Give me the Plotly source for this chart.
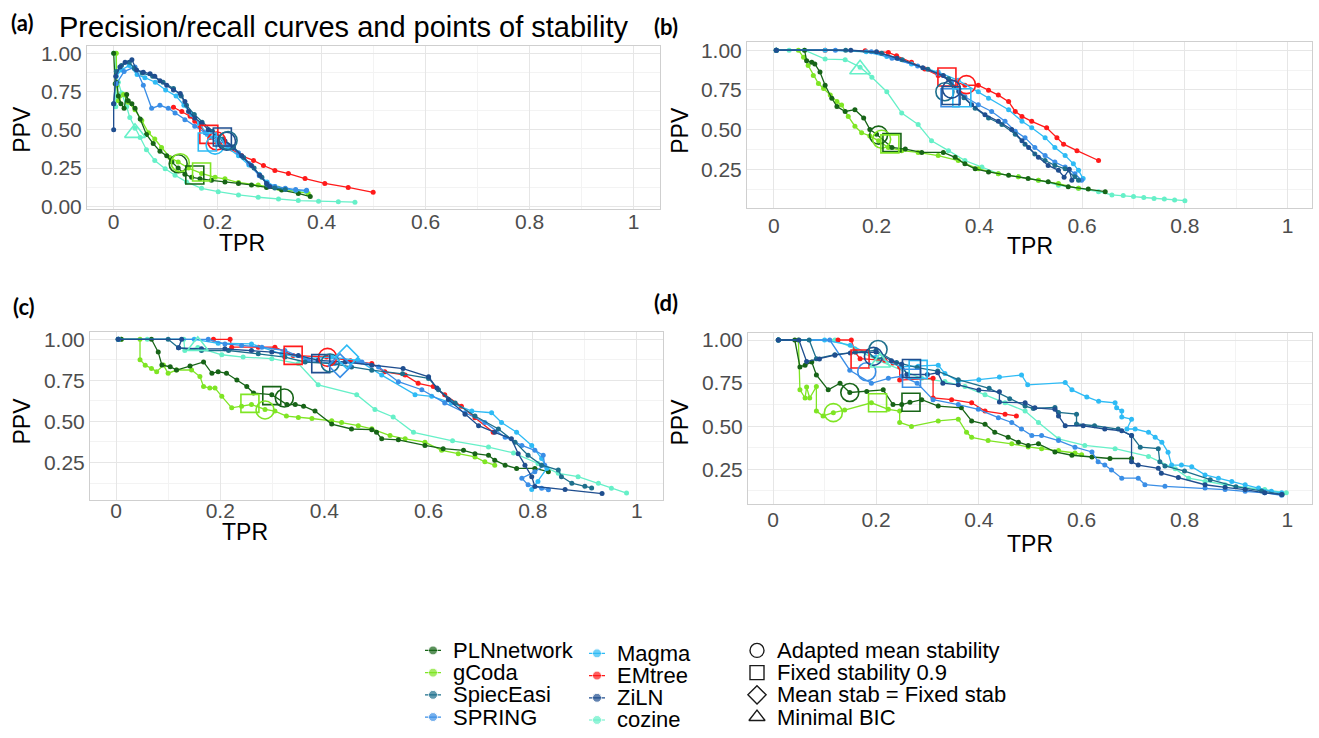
import plotly.graph_objects as go

# ---------------- data ----------------
METHODS = ["PLNnetwork", "gCoda", "SpiecEasi", "SPRING", "Magma", "EMtree", "ZiLN", "cozine"]
COLORS = {
    "PLNnetwork": "#176417", "gCoda": "#7FE524", "SpiecEasi": "#1D6F8C", "SPRING": "#3A8EE6",
    "Magma": "#2EBBF5", "EMtree": "#FF1A1A", "ZiLN": "#1F4E8F", "cozine": "#66F0C8",
}
SHAPES = ["Adapted mean stability", "Fixed stability 0.9", "Mean stab = Fixed stab", "Minimal BIC"]
SHAPE_KEYS = ["circle", "square", "diamond", "triangle"]

TPR_TICKS = [0, 0.2, 0.4, 0.6, 0.8, 1]
TPR_LABELS = ["0", "0.2", "0.4", "0.6", "0.8", "1"]
PPV_TICKS = [0, 0.25, 0.5, 0.75, 1]
PPV_LABELS = ["0.00", "0.25", "0.50", "0.75", "1.00"]

# ---- panel (a): (TPR, PPV) ----
A_PLN = [(0.0,1.0),(0.003,0.80),(0.006,0.81),(0.009,0.72),(0.014,0.67),(0.02,0.64),(0.025,0.73),(0.028,0.69),(0.035,0.67),(0.041,0.64),(0.051,0.57),(0.063,0.47),(0.076,0.41),(0.089,0.36),(0.102,0.33),(0.112,0.29),(0.124,0.25),(0.137,0.21),(0.15,0.19),(0.166,0.18),(0.188,0.17),(0.214,0.16),(0.24,0.15),(0.265,0.14),(0.294,0.124),(0.323,0.107),(0.355,0.085),(0.378,0.064)]
A_GCO = [(0.005,1.0),(0.006,0.79),(0.009,0.69),(0.019,0.73),(0.028,0.68),(0.041,0.63),(0.054,0.56),(0.067,0.48),(0.079,0.44),(0.092,0.385),(0.108,0.32),(0.124,0.29),(0.144,0.25),(0.169,0.215),(0.195,0.19),(0.214,0.18),(0.24,0.156),(0.278,0.139),(0.317,0.118),(0.355,0.096),(0.374,0.085)]
A_COZ = [(0.0,1.0),(0.004,1.0),(0.004,0.65),(0.009,0.81),(0.015,0.74),(0.025,0.65),(0.031,0.58),(0.041,0.51),(0.051,0.45),(0.063,0.37),(0.079,0.30),(0.099,0.246),(0.118,0.203),(0.14,0.16),(0.169,0.118),(0.201,0.096),(0.24,0.075),(0.278,0.06),(0.317,0.049),(0.355,0.038),(0.394,0.034),(0.432,0.03),(0.464,0.028)]
A_ZIL = [(0.0,0.5),(0.0,0.67),(0.004,0.85),(0.012,0.91),(0.022,0.94),(0.035,0.957),(0.044,0.89),(0.057,0.876),(0.07,0.865),(0.079,0.85),(0.089,0.82),(0.102,0.79),(0.115,0.76),(0.128,0.737),(0.137,0.684),(0.144,0.62),(0.156,0.577),(0.169,0.545),(0.182,0.5),(0.198,0.46),(0.214,0.427),(0.23,0.385),(0.246,0.33),(0.265,0.267),(0.281,0.203),(0.294,0.15),(0.30,0.13)]
A_SPI = [(0.0,0.67),(0.005,0.88),(0.015,0.92),(0.03,0.94),(0.04,0.9),(0.055,0.87),(0.075,0.85),(0.095,0.81),(0.115,0.77),(0.13,0.72),(0.14,0.66),(0.155,0.6),(0.17,0.55),(0.19,0.49),(0.21,0.44),(0.23,0.39),(0.25,0.32),(0.27,0.25),(0.285,0.19),(0.295,0.14),(0.31,0.12),(0.33,0.11)]
A_MAG = [(0.005,0.85),(0.015,0.89),(0.03,0.92),(0.045,0.86),(0.06,0.84),(0.08,0.81),(0.1,0.76),(0.12,0.72),(0.135,0.66),(0.15,0.6),(0.165,0.54),(0.18,0.47),(0.2,0.41),(0.22,0.38),(0.24,0.33),(0.26,0.27),(0.28,0.21),(0.295,0.16),(0.31,0.13),(0.33,0.115),(0.35,0.105),(0.37,0.10)]
A_SPR = [(0.005,0.8),(0.02,0.88),(0.041,0.91),(0.057,0.79),(0.073,0.64),(0.089,0.66),(0.105,0.64),(0.118,0.61),(0.137,0.566),(0.156,0.523),(0.176,0.48),(0.2,0.43),(0.22,0.4),(0.24,0.35),(0.26,0.28),(0.28,0.2),(0.295,0.15),(0.31,0.13),(0.33,0.118),(0.35,0.11),(0.371,0.105)]
A_EMT = [(0.115,0.647),(0.131,0.62),(0.147,0.588),(0.156,0.556),(0.166,0.523),(0.185,0.449),(0.204,0.406),(0.227,0.374),(0.246,0.33),(0.269,0.3),(0.288,0.267),(0.31,0.235),(0.336,0.214),(0.368,0.182),(0.406,0.15),(0.451,0.124),(0.499,0.092)]
A_STAB = [("EMtree","square",0.183,0.47),("EMtree","circle",0.198,0.427),("Magma","square",0.18,0.42),("Magma","circle",0.195,0.40),("ZiLN","square",0.209,0.453),("ZiLN","circle",0.217,0.425),("SpiecEasi","circle",0.22,0.43),("PLNnetwork","circle",0.124,0.278),("gCoda","circle",0.128,0.285),("PLNnetwork","square",0.156,0.205),("gCoda","square",0.169,0.225),("cozine","triangle",0.041,0.48)]

# ---- panel (b) ----
B_COZ = [(0.005,1.0),(0.03,1.0),(0.06,1.0),(0.1,0.944),(0.139,0.94),(0.168,0.893),(0.191,0.83),(0.22,0.738),(0.249,0.604),(0.281,0.532),(0.307,0.429),(0.34,0.367),(0.372,0.305),(0.405,0.264),(0.437,0.222),(0.476,0.202),(0.515,0.181),(0.554,0.15),(0.593,0.13),(0.632,0.109),(0.658,0.088),(0.68,0.085),(0.70,0.078),(0.72,0.072),(0.74,0.066),(0.76,0.062),(0.78,0.057),(0.80,0.052)]
B_GCO = [(0.005,1.0),(0.048,1.0),(0.058,0.955),(0.067,0.903),(0.077,0.841),(0.087,0.79),(0.097,0.759),(0.11,0.717),(0.123,0.676),(0.132,0.655),(0.145,0.583),(0.158,0.521),(0.171,0.48),(0.187,0.46),(0.204,0.429),(0.223,0.387),(0.249,0.367),(0.281,0.356),(0.32,0.336),(0.359,0.305),(0.398,0.253),(0.437,0.222),(0.476,0.202),(0.515,0.181),(0.554,0.16),(0.593,0.13)]
B_PLN = [(0.005,1.0),(0.06,1.0),(0.064,0.934),(0.074,0.924),(0.08,0.913),(0.09,0.862),(0.1,0.779),(0.113,0.697),(0.123,0.645),(0.139,0.614),(0.158,0.625),(0.175,0.573),(0.187,0.501),(0.2,0.47),(0.23,0.387),(0.256,0.377),(0.288,0.356),(0.33,0.356),(0.353,0.325),(0.372,0.284),(0.392,0.253),(0.418,0.233),(0.457,0.212),(0.495,0.191),(0.534,0.171),(0.573,0.14),(0.612,0.125),(0.645,0.109)]
B_EMT = [(0.1,1.0),(0.178,0.996),(0.223,0.986),(0.239,0.965),(0.268,0.924),(0.294,0.882),(0.32,0.841),(0.34,0.82),(0.372,0.779),(0.398,0.779),(0.418,0.748),(0.437,0.717),(0.457,0.676),(0.47,0.614),(0.483,0.583),(0.502,0.552),(0.531,0.511),(0.551,0.449),(0.564,0.408),(0.59,0.367),(0.632,0.305)]
B_MAG = [(0.005,1.0),(0.1,1.0),(0.18,0.99),(0.22,0.96),(0.268,0.913),(0.32,0.862),(0.359,0.81),(0.398,0.738),(0.418,0.697),(0.457,0.625),(0.483,0.552),(0.502,0.511),(0.528,0.449),(0.547,0.387),(0.567,0.336),(0.583,0.284),(0.593,0.243),(0.602,0.191)]
B_SPR = [(0.005,1.0),(0.12,1.0),(0.19,0.99),(0.23,0.95),(0.28,0.9),(0.32,0.85),(0.346,0.8),(0.372,0.707),(0.398,0.656),(0.424,0.614),(0.45,0.552),(0.47,0.49),(0.489,0.449),(0.508,0.387),(0.528,0.336),(0.547,0.295),(0.567,0.264),(0.586,0.222),(0.599,0.181)]
B_ZIL = [(0.005,1.0),(0.15,1.0),(0.2,0.99),(0.24,0.95),(0.29,0.89),(0.33,0.84),(0.36,0.74),(0.385,0.656),(0.411,0.594),(0.437,0.552),(0.463,0.501),(0.483,0.429),(0.496,0.387),(0.515,0.325),(0.534,0.274),(0.554,0.243),(0.565,0.2),(0.575,0.25),(0.58,0.18)]
B_SPI = [(0.005,1.0),(0.14,1.0),(0.21,0.98),(0.25,0.94),(0.3,0.88),(0.34,0.82),(0.37,0.7),(0.392,0.635),(0.418,0.573),(0.444,0.532),(0.47,0.47),(0.489,0.408),(0.508,0.346),(0.528,0.305),(0.547,0.274),(0.567,0.253),(0.586,0.202),(0.593,0.181)]
B_STAB = [("EMtree","square",0.337,0.831),("EMtree","circle",0.375,0.783),("SpiecEasi","circle",0.333,0.738),("SPRING","square",0.343,0.70),("Magma","square",0.366,0.70),("ZiLN","square",0.345,0.715),("ZiLN","circle",0.346,0.755),("PLNnetwork","circle",0.204,0.465),("gCoda","circle",0.21,0.439),("PLNnetwork","square",0.23,0.418),("gCoda","square",0.226,0.41),("cozine","triangle",0.168,0.88)]

# ---- panel (c) ----
C_COZ = [(0.004,1.0),(0.06,1.0),(0.13,1.0),(0.132,0.932),(0.157,0.95),(0.203,0.906),(0.244,0.892),(0.299,0.882),(0.35,0.852),(0.388,0.723),(0.462,0.663),(0.497,0.573),(0.532,0.527),(0.571,0.434),(0.646,0.382),(0.715,0.344),(0.763,0.308),(0.81,0.244),(0.849,0.184),(0.887,0.164),(0.926,0.124),(0.951,0.094),(0.98,0.064)]
C_GCO = [(0.01,1.0),(0.046,1.0),(0.046,0.876),(0.056,0.842),(0.068,0.823),(0.078,0.803),(0.091,0.843),(0.1,0.793),(0.116,0.813),(0.145,0.813),(0.161,0.773),(0.168,0.713),(0.18,0.703),(0.19,0.703),(0.203,0.653),(0.222,0.583),(0.241,0.593),(0.26,0.603),(0.286,0.573),(0.305,0.563),(0.327,0.533),(0.35,0.524),(0.376,0.518),(0.414,0.504),(0.433,0.494),(0.465,0.474),(0.491,0.455),(0.526,0.414),(0.555,0.394),(0.593,0.374),(0.625,0.324),(0.657,0.304),(0.689,0.284),(0.708,0.254),(0.727,0.234)]
C_PLN = [(0.01,1.0),(0.068,1.0),(0.081,0.922),(0.088,0.843),(0.104,0.833),(0.116,0.813),(0.142,0.837),(0.168,0.862),(0.184,0.793),(0.196,0.803),(0.212,0.793),(0.232,0.753),(0.251,0.713),(0.264,0.673),(0.299,0.663),(0.328,0.603),(0.344,0.603),(0.36,0.593),(0.382,0.563),(0.414,0.484),(0.452,0.454),(0.491,0.45),(0.5,0.434),(0.51,0.394),(0.542,0.388),(0.593,0.354),(0.628,0.334),(0.667,0.324),(0.689,0.304),(0.715,0.294),(0.727,0.264),(0.747,0.234),(0.769,0.214),(0.804,0.214),(0.83,0.194)]
C_EMT = [(0.187,1.0),(0.219,1.0),(0.222,0.952),(0.273,0.952),(0.305,0.952),(0.34,0.902),(0.404,0.892),(0.45,0.87),(0.491,0.852),(0.516,0.802),(0.555,0.782),(0.58,0.732),(0.609,0.712),(0.631,0.663),(0.663,0.593),(0.689,0.523),(0.724,0.434)]
C_MAG = [(0.005,1.0),(0.15,1.0),(0.196,0.976),(0.26,0.972),(0.318,0.912),(0.363,0.882),(0.414,0.892),(0.465,0.872),(0.51,0.782),(0.574,0.663),(0.606,0.653),(0.644,0.613),(0.683,0.563),(0.721,0.553),(0.74,0.494),(0.769,0.434),(0.798,0.354),(0.817,0.274),(0.827,0.214),(0.81,0.135),(0.798,0.085)]
C_SPR = [(0.005,1.0),(0.177,1.0),(0.209,0.972),(0.241,0.962),(0.28,0.952),(0.324,0.932),(0.369,0.872),(0.42,0.852),(0.472,0.862),(0.504,0.832),(0.542,0.742),(0.587,0.693),(0.631,0.613),(0.67,0.553),(0.708,0.494),(0.747,0.404),(0.779,0.354),(0.804,0.324),(0.82,0.294),(0.823,0.234),(0.804,0.194),(0.779,0.154),(0.791,0.114),(0.817,0.094),(0.83,0.084)]
C_ZIL = [(0.004,1.0),(0.126,1.0),(0.12,0.948),(0.164,0.942),(0.209,0.942),(0.26,0.932),(0.299,0.922),(0.35,0.902),(0.388,0.872),(0.44,0.862),(0.491,0.842),(0.551,0.822),(0.6,0.772),(0.616,0.703),(0.638,0.633),(0.67,0.543),(0.696,0.474),(0.727,0.434),(0.759,0.394),(0.772,0.304),(0.785,0.234),(0.798,0.164),(0.804,0.104),(0.862,0.085),(0.933,0.061)]
C_SPI = [(0.004,1.0),(0.1,1.0),(0.12,0.948),(0.164,0.932),(0.216,0.932),(0.273,0.912),(0.324,0.892),(0.363,0.862),(0.414,0.852),(0.452,0.832),(0.491,0.812),(0.55,0.79),(0.6,0.762),(0.619,0.693),(0.651,0.613),(0.689,0.533),(0.734,0.454),(0.766,0.374),(0.791,0.294),(0.817,0.234),(0.849,0.204),(0.855,0.164),(0.875,0.124),(0.9,0.105),(0.913,0.095)]
C_STAB = [("EMtree","square",0.34,0.902),("EMtree","circle",0.406,0.89),("ZiLN","square",0.393,0.852),("SpiecEasi","circle",0.411,0.856),("SPRING","diamond",0.43,0.84),("Magma","diamond",0.443,0.893),("cozine","triangle",0.157,0.96),("PLNnetwork","square",0.299,0.657),("PLNnetwork","circle",0.323,0.643),("gCoda","square",0.257,0.61),("gCoda","circle",0.286,0.57)]

# ---- panel (d) ----
D_PLN = [(0.01,1.0),(0.042,1.0),(0.052,0.844),(0.062,0.854),(0.075,0.873),(0.084,0.797),(0.107,0.711),(0.13,0.749),(0.149,0.696),(0.182,0.702),(0.214,0.711),(0.233,0.626),(0.25,0.626),(0.266,0.639),(0.289,0.654),(0.321,0.617),(0.366,0.607),(0.386,0.531),(0.412,0.512),(0.431,0.465),(0.457,0.436),(0.477,0.408),(0.496,0.389),(0.516,0.398),(0.548,0.351),(0.581,0.332),(0.62,0.322),(0.655,0.313),(0.697,0.313)]
D_GCO = [(0.01,1.0),(0.049,1.0),(0.052,0.711),(0.062,0.664),(0.065,0.727),(0.071,0.664),(0.084,0.73),(0.084,0.588),(0.097,0.56),(0.117,0.579),(0.139,0.594),(0.191,0.636),(0.224,0.598),(0.246,0.588),(0.246,0.522),(0.269,0.499),(0.321,0.531),(0.36,0.541),(0.376,0.465),(0.386,0.436),(0.418,0.417),(0.464,0.398),(0.496,0.38),(0.522,0.37),(0.555,0.36),(0.587,0.345),(0.60,0.335)]
D_COZ = [(0.01,1.0),(0.12,1.0),(0.159,0.949),(0.204,0.882),(0.289,0.778),(0.334,0.759),(0.373,0.73),(0.412,0.683),(0.451,0.636),(0.49,0.588),(0.516,0.522),(0.555,0.427),(0.606,0.389),(0.665,0.37),(0.73,0.325),(0.782,0.253),(0.808,0.199),(0.84,0.18),(0.879,0.161),(0.918,0.146),(0.956,0.133),(0.998,0.114)]
D_EMT = [(0.126,1.0),(0.152,1.0),(0.159,0.93),(0.169,0.892),(0.217,0.882),(0.233,0.867),(0.246,0.844),(0.246,0.768),(0.311,0.778),(0.311,0.664),(0.347,0.654),(0.386,0.636),(0.412,0.588),(0.451,0.569),(0.473,0.56)]
D_MAG = [(0.01,1.0),(0.1,1.0),(0.15,0.97),(0.2,0.9),(0.25,0.845),(0.282,0.848),(0.321,0.854),(0.334,0.806),(0.36,0.76),(0.40,0.77),(0.44,0.785),(0.483,0.797),(0.495,0.74),(0.568,0.753),(0.581,0.711),(0.61,0.67),(0.633,0.645),(0.665,0.636),(0.668,0.607),(0.678,0.588),(0.678,0.554),(0.697,0.541),(0.688,0.484),(0.704,0.484),(0.73,0.465),(0.743,0.436),(0.756,0.408),(0.768,0.35),(0.775,0.275),(0.794,0.275),(0.814,0.266),(0.84,0.218),(0.866,0.199),(0.892,0.18),(0.918,0.161),(0.944,0.142),(0.969,0.123),(0.989,0.114)]
D_SPR = [(0.01,1.0),(0.11,1.0),(0.149,0.825),(0.191,0.749),(0.224,0.778),(0.25,0.79),(0.28,0.75),(0.311,0.654),(0.36,0.626),(0.399,0.598),(0.438,0.55),(0.464,0.522),(0.483,0.484),(0.503,0.446),(0.522,0.446),(0.555,0.417),(0.587,0.379),(0.62,0.351),(0.632,0.294),(0.645,0.275),(0.658,0.247),(0.678,0.199),(0.71,0.199),(0.723,0.161),(0.762,0.152),(0.84,0.142),(0.879,0.133),(0.918,0.123),(0.956,0.114),(0.989,0.1)]
D_ZIL = [(0.01,1.0),(0.05,1.0),(0.065,0.875),(0.09,0.89),(0.12,0.912),(0.15,0.925),(0.2,0.93),(0.23,0.88),(0.25,0.86),(0.26,0.8),(0.3,0.8),(0.32,0.81),(0.33,0.75),(0.36,0.74),(0.4,0.71),(0.44,0.7),(0.44,0.64),(0.49,0.636),(0.509,0.607),(0.548,0.598),(0.555,0.56),(0.568,0.503),(0.603,0.503),(0.645,0.484),(0.678,0.474),(0.697,0.446),(0.697,0.294),(0.71,0.275),(0.749,0.256),(0.755,0.228),(0.788,0.203),(0.84,0.161),(0.879,0.146),(0.918,0.133),(0.956,0.114),(0.989,0.104)]
D_SPI = [(0.01,1.0),(0.07,1.0),(0.084,0.892),(0.12,0.915),(0.16,0.93),(0.2,0.94),(0.24,0.87),(0.28,0.84),(0.32,0.82),(0.36,0.77),(0.42,0.72),(0.46,0.66),(0.49,0.617),(0.506,0.603),(0.548,0.609),(0.555,0.58),(0.59,0.57),(0.59,0.513),(0.625,0.503),(0.671,0.484),(0.697,0.446),(0.714,0.379),(0.749,0.37),(0.752,0.294),(0.762,0.27),(0.80,0.24),(0.85,0.19),(0.9,0.15),(0.95,0.125),(0.99,0.105)]
D_STAB = [("EMtree","square",0.169,0.89),("SPRING","circle",0.182,0.816),("ZiLN","circle",0.195,0.905),("SpiecEasi","circle",0.204,0.945),("cozine","triangle",0.208,0.87),("SPRING","square",0.269,0.778),("Magma","square",0.282,0.83),("ZiLN","square",0.269,0.835),("PLNnetwork","circle",0.149,0.696),("PLNnetwork","square",0.268,0.639),("gCoda","circle",0.117,0.579),("gCoda","square",0.203,0.636)]

CURVES = {
    "a": {"PLNnetwork": A_PLN, "gCoda": A_GCO, "SpiecEasi": A_SPI, "SPRING": A_SPR, "Magma": A_MAG, "EMtree": A_EMT, "ZiLN": A_ZIL, "cozine": A_COZ},
    "b": {"PLNnetwork": B_PLN, "gCoda": B_GCO, "SpiecEasi": B_SPI, "SPRING": B_SPR, "Magma": B_MAG, "EMtree": B_EMT, "ZiLN": B_ZIL, "cozine": B_COZ},
    "c": {"PLNnetwork": C_PLN, "gCoda": C_GCO, "SpiecEasi": C_SPI, "SPRING": C_SPR, "Magma": C_MAG, "EMtree": C_EMT, "ZiLN": C_ZIL, "cozine": C_COZ},
    "d": {"PLNnetwork": D_PLN, "gCoda": D_GCO, "SpiecEasi": D_SPI, "SPRING": D_SPR, "Magma": D_MAG, "EMtree": D_EMT, "ZiLN": D_ZIL, "cozine": D_COZ},
}
STAB = {"a": A_STAB, "b": B_STAB, "c": C_STAB, "d": D_STAB}

# ---------------- layout geometry (pixels) ----------------
W, H = 1319, 738
FONT = "Liberation Sans"
GRID, MINOR_GRID, BORDER = "#e6e6e6", "#f3f3f3", "#cfcfcf"
SYM = {"circle": "circle-open", "square": "square-open", "diamond": "diamond-open", "triangle": "triangle-up-open"}
DRAW_ORDER = ["cozine", "gCoda", "PLNnetwork", "EMtree", "Magma", "SPRING", "SpiecEasi", "ZiLN"]

# panel: (left, right, top, bottom) in px, x range, y range, x tick label shift
PANEL_GEOM = {
    "a": ((87, 660, 42, 208), (-0.0513, 1.0506), (-0.019, 1.045), -7),
    "b": ((747, 1312, 38, 207), (-0.052, 1.0473), (0.0037, 1.0495), -2),
    "c": ((90, 663, 333, 504), (-0.05, 1.05), (0.021, 1.0437), -8),
    "d": ((748, 1312, 334, 508), (-0.049, 1.048), (0.049, 1.04), -3),
}
LABEL_POS = {"a": (9, 18), "b": (652, 22), "c": (11, 307), "d": (652, 303)}
TPR_POS = {"a": (242, 242), "b": (1030, 245), "c": (245, 536), "d": (1030, 549)}
PPV_POS = {"a": (22, 127), "b": (680, 128), "c": (22, 424), "d": (680, 425)}


def px(x):
    return x / W


def py(y):
    return 1 - y / H


fig = go.Figure()
layout = dict(width=W, height=H, margin=dict(l=0, r=0, t=0, b=0), paper_bgcolor="white",
              plot_bgcolor="white", showlegend=False, annotations=[])

for i, p in enumerate(["a", "b", "c", "d"]):
    (l, r, t, b), xr, yr, xshift = PANEL_GEOM[p]
    sfx = "" if i == 0 else str(i + 1)
    layout["xaxis" + sfx] = dict(
        domain=[px(l), px(r)], range=list(xr), tickvals=TPR_TICKS, ticktext=TPR_LABELS,
        showgrid=True, gridcolor=GRID, gridwidth=1,
        minor=dict(dtick=0.1, tick0=0, showgrid=True, gridcolor=MINOR_GRID, gridwidth=1),
        showline=True, mirror=True, linecolor=BORDER, linewidth=1, zeroline=False, ticks="",
        ticklabelstandoff=xshift,
        tickfont=dict(family=FONT, size=21, color="#4d4d4d"), anchor="y" + sfx, fixedrange=True)
    layout["yaxis" + sfx] = dict(
        domain=[py(b), py(t)], range=list(yr), tickvals=PPV_TICKS, ticktext=PPV_LABELS,
        showgrid=True, gridcolor=GRID, gridwidth=1,
        minor=dict(dtick=0.125, tick0=0, showgrid=True, gridcolor=MINOR_GRID, gridwidth=1),
        showline=True, mirror=True, linecolor=BORDER, linewidth=1, zeroline=False, ticks="",
        tickfont=dict(family=FONT, size=21, color="#4d4d4d"), anchor="x" + sfx, fixedrange=True)

    for m in DRAW_ORDER:
        pts = CURVES[p][m]
        fig.add_trace(go.Scatter(
            x=[q[0] for q in pts], y=[q[1] for q in pts], mode="lines+markers",
            line=dict(color=COLORS[m], width=1.3), marker=dict(size=5, color=COLORS[m]),
            xaxis="x" + sfx, yaxis="y" + sfx, hoverinfo="skip", cliponaxis=False))
    for (m, shp, tx, ty) in STAB[p]:
        fig.add_trace(go.Scatter(
            x=[tx], y=[ty], mode="markers",
            marker=dict(symbol=SYM[shp], size=18, color=COLORS[m], line=dict(width=1.6, color=COLORS[m])),
            xaxis="x" + sfx, yaxis="y" + sfx, hoverinfo="skip"))

    lx, ly = LABEL_POS[p]
    layout["annotations"].append(dict(
        text="<b>(%s)</b>" % p, x=px(lx), y=py(ly), xref="paper", yref="paper",
        xanchor="left", yanchor="middle", showarrow=False, font=dict(family="Lato", size=22, color="black")))
    tx_, ty_ = TPR_POS[p]
    layout["annotations"].append(dict(
        text="TPR", x=px(tx_), y=py(ty_), xref="paper", yref="paper", xanchor="center",
        yanchor="middle", showarrow=False, font=dict(family=FONT, size=23, color="black")))
    vx, vy = PPV_POS[p]
    layout["annotations"].append(dict(
        text="PPV", x=px(vx), y=py(vy), xref="paper", yref="paper", xanchor="center",
        yanchor="middle", textangle=-90, showarrow=False, font=dict(family=FONT, size=23, color="black")))

layout["annotations"].append(dict(
    text="Precision/recall curves and points of stability", x=px(57), y=py(22), xref="paper", yref="paper",
    xanchor="left", yanchor="middle", showarrow=False, font=dict(family=FONT, size=29, color="black")))

# ---------------- manual legend (pixel coordinates on a hidden axis) ----------------
LEG_TOP = 634.0
layout["xaxis5"] = dict(domain=[0, 1], range=[0, W], visible=False, fixedrange=True, anchor="y5")
layout["yaxis5"] = dict(domain=[0, py(LEG_TOP)], range=[H, LEG_TOP], visible=False, fixedrange=True, anchor="x5")

COL_X = [433, 597, 757]
COL_Y0 = [657, 660, 657]
ROW_STEP = 22.6
TEXT_DX = 18
legend_cols = [METHODS[:4], METHODS[4:]]
for c, col in enumerate(legend_cols):
    for k, m in enumerate(col):
        cx, cy = COL_X[c], COL_Y0[c] + k * ROW_STEP
        fig.add_trace(go.Scatter(
            x=[cx - 8, cx, cx + 8], y=[cy, cy, cy], mode="lines+markers",
            line=dict(color=COLORS[m], width=1.2), marker=dict(size=[0, 9, 0], color=COLORS[m]),
            xaxis="x5", yaxis="y5", hoverinfo="skip"))
        layout["annotations"].append(dict(
            text=m, x=cx + TEXT_DX, y=cy, xref="x5", yref="y5", xanchor="left", yanchor="middle",
            showarrow=False, font=dict(family=FONT, size=22, color="black")))
for k, (lab, shp) in enumerate(zip(SHAPES, SHAPE_KEYS)):
    cx, cy = COL_X[2], COL_Y0[2] + k * ROW_STEP
    fig.add_trace(go.Scatter(
        x=[cx], y=[cy], mode="markers",
        marker=dict(symbol=SYM[shp], size=14, color="#1a1a1a", line=dict(width=1.4, color="#1a1a1a")),
        xaxis="x5", yaxis="y5", hoverinfo="skip"))
    layout["annotations"].append(dict(
        text=lab, x=cx + TEXT_DX, y=cy, xref="x5", yref="y5", xanchor="left", yanchor="middle",
        showarrow=False, font=dict(family=FONT, size=22, color="black")))

fig.update_layout(**layout)
fig.write_html("out.html", config={"displayModeBar": False},
               post_script="document.body.style.margin='0px';")
